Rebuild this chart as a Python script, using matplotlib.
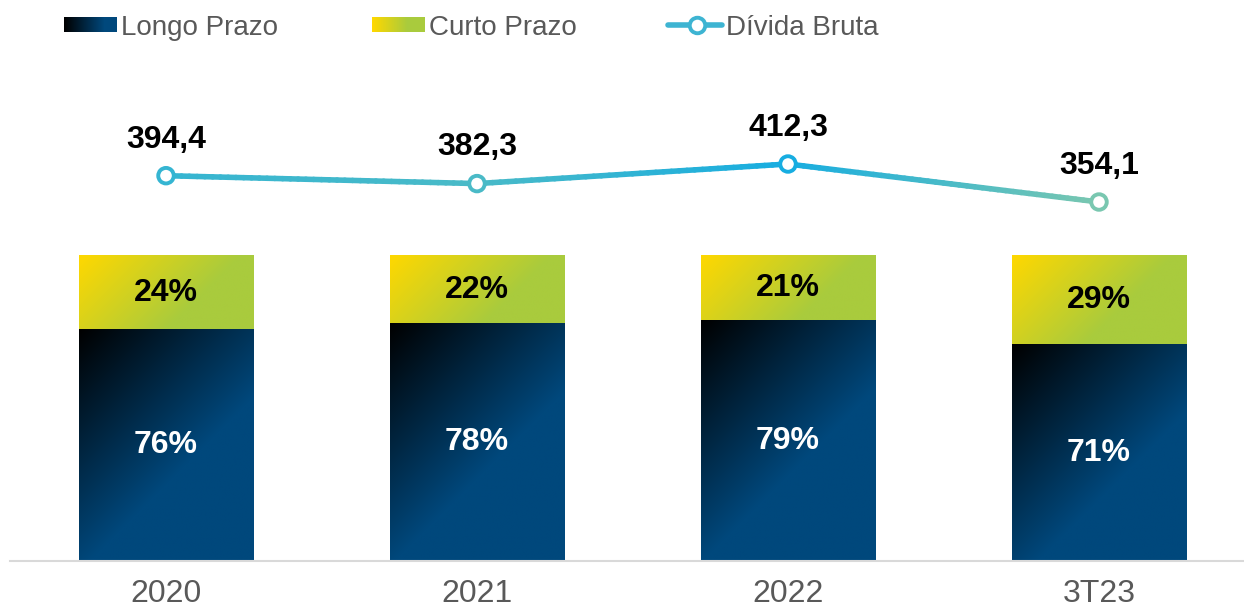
import numpy as np
import matplotlib.pyplot as plt
from matplotlib.collections import LineCollection
from matplotlib.colors import to_rgb

plt.rcParams['font.family'] = ['Liberation Sans', 'DejaVu Sans']

periodos = ["2020", "2021", "2022", "3T23"]
longo_prazo = [76, 78, 79, 71]
curto_prazo = [24, 22, 21, 29]
divida_bruta = [394.4, 382.3, 412.3, 354.1]
rotulos_divida = ["394,4", "382,3", "412,3", "354,1"]

W, H = 1244, 614
fig = plt.figure(figsize=(W / 100, H / 100), dpi=100)
ax = fig.add_axes([10 / W, (H - 561) / H, (W - 10) / W, 501 / H])
ax2 = ax.twinx()

PX_CAT = 311    # px per category
PX_PCT = 3.05   # px per percent point
PX_DIV = 0.653  # px per unit of divida bruta

AZUL0, AZUL1 = "#000000", "#00487C"
AMAR0, AMAR1 = "#FFD800", "#A9CB3D"
LINHA_TOPO, LINHA_BASE = "#14ACE2", "#7DC8AE"
CINZA = "#595959"


def gradiente(w_px, h_px, c0, c1, L, horizontal=False):
    nx, ny = max(int(w_px), 2), max(int(h_px), 2)
    dx = np.arange(nx)[None, :]
    dy = np.arange(ny)[:, None]
    if horizontal:
        t = np.clip(dx / L + 0 * dy, 0, 1)
    else:
        t = np.clip((dx + dy) / L, 0, 1)
    a, b = np.array(to_rgb(c0)), np.array(to_rgb(c1))
    return a[None, None, :] * (1 - t[..., None]) + b[None, None, :] * t[..., None]


x = np.arange(len(periodos))
bw = 0.56
barras_l = ax.bar(x, longo_prazo, bw, color="none", zorder=2)
barras_c = ax.bar(x, curto_prazo, bw, bottom=longo_prazo, color="none", zorder=2)

for barras, c0, c1, L in [(barras_l, AZUL0, AZUL1, 240), (barras_c, AMAR0, AMAR1, 160)]:
    for r in barras:
        x0, y0, w, h = r.get_x(), r.get_y(), r.get_width(), r.get_height()
        img = gradiente(w * PX_CAT, h * PX_PCT, c0, c1, L)
        ax.imshow(img, extent=(x0, x0 + w, y0, y0 + h), origin="upper",
                  aspect="auto", interpolation="bilinear", zorder=1)

for xi, l, c in zip(x, longo_prazo, curto_prazo):
    ax.text(xi, l / 2, f"{l}%", ha="center", va="center", color="white",
            fontsize=23, fontweight="bold", zorder=3)
    ax.text(xi, l + c / 2, f"{c}%", ha="center", va="center", color="black",
            fontsize=23, fontweight="bold", zorder=3)

ax.set_xlim(-156 / PX_CAT, 3 + 145 / PX_CAT)
ax.set_ylim(0, 501 / PX_PCT)

# line with vertical colour gradient
topo = 412.3 + (164 - 60) / PX_DIV
ax2.set_ylim(topo - 501 / PX_DIV, topo)
v0, v1 = 352, 414


def cor_linha(v):
    t = np.clip((v - v0) / (v1 - v0), 0, 1)
    a, b = np.array(to_rgb(LINHA_BASE)), np.array(to_rgb(LINHA_TOPO))
    return a * (1 - t) + b * t


segs, cores = [], []
for i in range(len(x) - 1):
    ts = np.linspace(0, 1, 41)
    xs = x[i] + (x[i + 1] - x[i]) * ts
    ys = divida_bruta[i] + (divida_bruta[i + 1] - divida_bruta[i]) * ts
    for j in range(len(ts) - 1):
        segs.append([(xs[j], ys[j]), (xs[j + 1], ys[j + 1])])
        cores.append(cor_linha((ys[j] + ys[j + 1]) / 2))
ax2.add_collection(LineCollection(segs, colors=cores, linewidths=4,
                                  capstyle="round", zorder=4))
ax2.scatter(x, divida_bruta, s=125, facecolor="white",
            edgecolors=[cor_linha(v) for v in divida_bruta], linewidths=2.8, zorder=5)
for xi, v, rot in zip(x, divida_bruta, rotulos_divida):
    ax2.annotate(rot, (xi, v), xytext=(0, 26), textcoords="offset points",
                 ha="center", va="center", fontsize=23, fontweight="bold")

for a in (ax, ax2):
    for s in ("top", "left", "right"):
        a.spines[s].set_visible(False)
    a.set_yticks([])
ax2.spines["bottom"].set_visible(False)
ax.spines["bottom"].set_color("#D9D9D9")
ax.spines["bottom"].set_linewidth(1.5)
ax.set_xticks(x, periodos)
ax.tick_params(axis="x", length=0, pad=13, labelsize=23, labelcolor=CINZA)

# legend drawn in pixel space
lg = fig.add_axes([0, 0, 1, 1], zorder=10)
lg.axis("off")
lg.imshow(gradiente(53, 15, AZUL0, AZUL1, 40, horizontal=True),
          extent=(64, 117, 32, 17), aspect="auto", interpolation="bilinear")
lg.imshow(gradiente(53, 15, AMAR0, AMAR1, 35, horizontal=True),
          extent=(372, 425, 32, 17), aspect="auto", interpolation="bilinear")
lg.plot([668, 722], [25, 25], color="#3DB4D2", lw=4, solid_capstyle="round")
lg.scatter([697], [25], s=125, facecolor="white", edgecolors="#3DB4D2", linewidths=2.8, zorder=3)
for xt, txt in [(121, "Longo Prazo"), (429, "Curto Prazo"), (726, "Dívida Bruta")]:
    lg.text(xt, 28, txt, ha="left", va="center", fontsize=20, color=CINZA)
lg.set_xlim(0, W)
lg.set_ylim(H, 0)

fig.savefig("out.png", dpi=100)
